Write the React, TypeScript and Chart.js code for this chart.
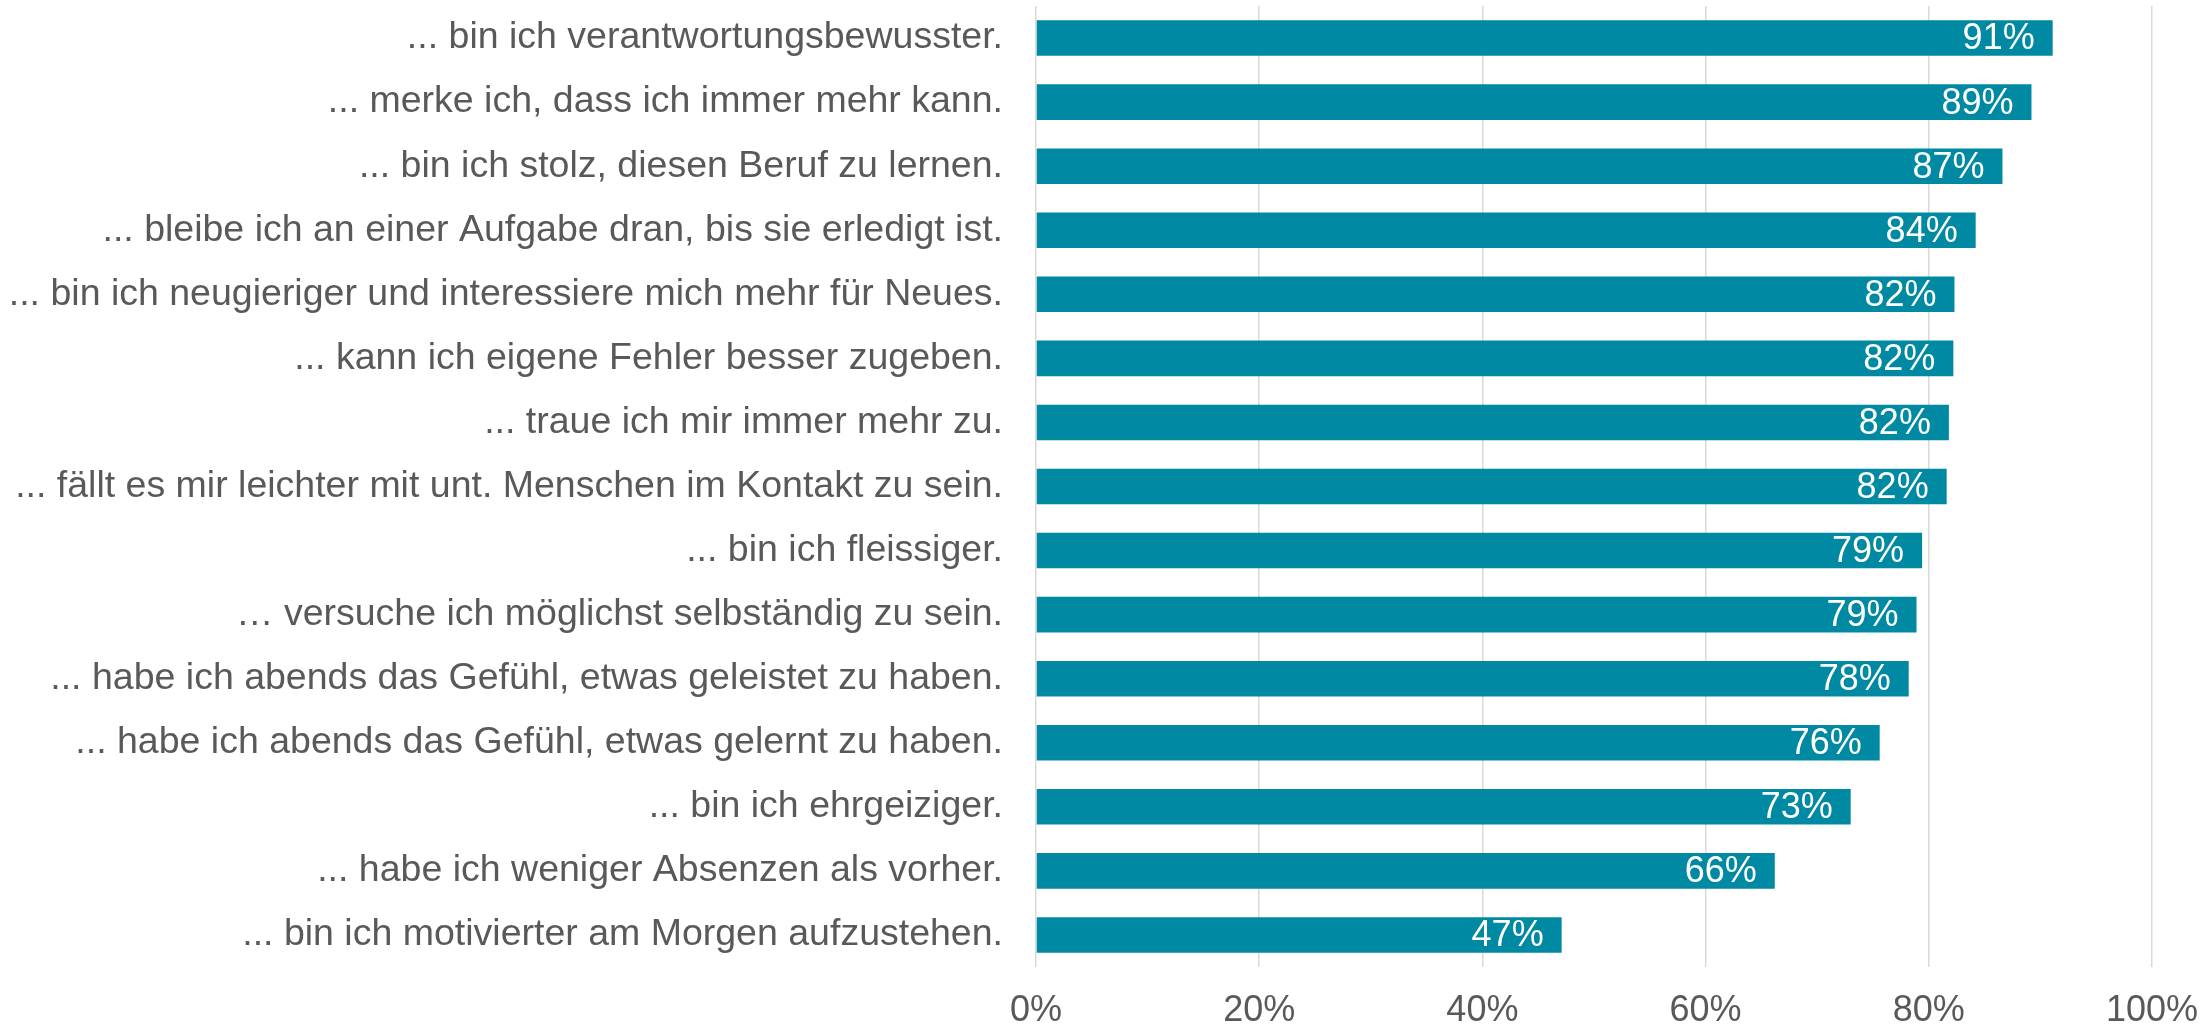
import React, { useEffect, useRef } from "react";
import { Chart, registerables } from "chart.js";

Chart.register(...registerables);

const categories = [
  "... bin ich verantwortungsbewusster.",
  "... merke ich, dass ich immer mehr kann.",
  "... bin ich stolz, diesen Beruf zu lernen.",
  "... bleibe ich an einer Aufgabe dran, bis sie erledigt ist.",
  "... bin ich neugieriger und interessiere mich mehr für Neues.",
  "... kann ich eigene Fehler besser zugeben.",
  "... traue ich mir immer mehr zu.",
  "... fällt es mir leichter mit unt. Menschen im Kontakt zu sein.",
  "... bin ich fleissiger.",
  "… versuche ich möglichst selbständig zu sein.",
  "... habe ich abends das Gefühl, etwas geleistet zu haben.",
  "... habe ich abends das Gefühl, etwas gelernt zu haben.",
  "... bin ich ehrgeiziger.",
  "... habe ich weniger Absenzen als vorher.",
  "... bin ich motivierter am Morgen aufzustehen.",
];

const values = [91.1, 89.2, 86.6, 84.2, 82.3, 82.2, 81.8, 81.6, 79.4, 78.9, 78.2, 75.6, 73.0, 66.2, 47.1];

const valueLabels = ["91%", "89%", "87%", "84%", "82%", "82%", "82%", "82%", "79%", "79%", "78%", "76%", "73%", "66%", "47%"];

const xTicks = [0, 20, 40, 60, 80, 100];

const FONT = "'Liberation Sans', Arial, sans-serif";

const barLabelPlugin = {
  id: "barLabels",
  afterDatasetsDraw(chart: any) {
    const ctx = chart.ctx;
    const meta = chart.getDatasetMeta(0);
    ctx.save();
    ctx.fillStyle = "#ffffff";
    ctx.font = `36px ${FONT}`;
    ctx.textAlign = "right";
    ctx.textBaseline = "middle";
    meta.data.forEach((bar: any, i: number) => {
      ctx.fillText(valueLabels[i], bar.x - 18, bar.y + 1.5);
    });
    ctx.restore();
  },
};

export default function App() {
  const canvasRef = useRef<HTMLCanvasElement | null>(null);

  useEffect(() => {
    document.body.style.margin = "0";
    const canvas = canvasRef.current;
    if (!canvas) return;
    const chart = new Chart(canvas, {
      type: "bar",
      data: {
        labels: categories,
        datasets: [
          {
            data: values,
            backgroundColor: "#0089A3",
            borderWidth: 0,
            barPercentage: 0.555,
            categoryPercentage: 1,
          },
        ],
      },
      options: {
        indexAxis: "y",
        animation: false,
        responsive: false,
        maintainAspectRatio: false,
        layout: { padding: { left: 0, right: 56, top: 6, bottom: 0 } },
        plugins: {
          legend: { display: false },
          tooltip: { enabled: false },
        },
        scales: {
          x: {
            min: 0,
            max: 100,
            afterBuildTicks: (scale: any) => {
              scale.ticks = xTicks.map((v) => ({ value: v }));
            },
            afterFit: (scale: any) => {
              scale.height = 57;
              scale.paddingLeft = 0;
              scale.paddingRight = 0;
              scale.paddingTop = 0;
              scale.paddingBottom = 0;
            },
            grid: {
              color: "#d9d9d9",
              lineWidth: 1.5,
              drawTicks: false,
            },
            border: { display: false },
            ticks: {
              color: "#595959",
              font: { family: FONT, size: 36 },
              padding: 22,
              callback: (v: any) => `${v}%`,
              maxRotation: 0,
            },
          },
          y: {
            afterFit: (scale: any) => {
              scale.width = 1036;
              scale.paddingTop = 0;
              scale.paddingBottom = 0;
              scale.paddingLeft = 0;
              scale.paddingRight = 0;
            },
            grid: { display: false, drawTicks: false },
            border: { display: false },
            ticks: {
              color: "#595959",
              font: { family: FONT, size: 37.5 },
              padding: 33,
              autoSkip: false,
            },
          },
        },
      },
      plugins: [barLabelPlugin],
    });
    return () => chart.destroy();
  }, []);

  return (
    <div style={{ position: "absolute", left: 0, top: 0, width: 2208, height: 1024, background: "#fff" }}>
      <canvas ref={canvasRef} width={2208} height={1024} style={{ width: 2208, height: 1024, display: "block" }} />
    </div>
  );
}
